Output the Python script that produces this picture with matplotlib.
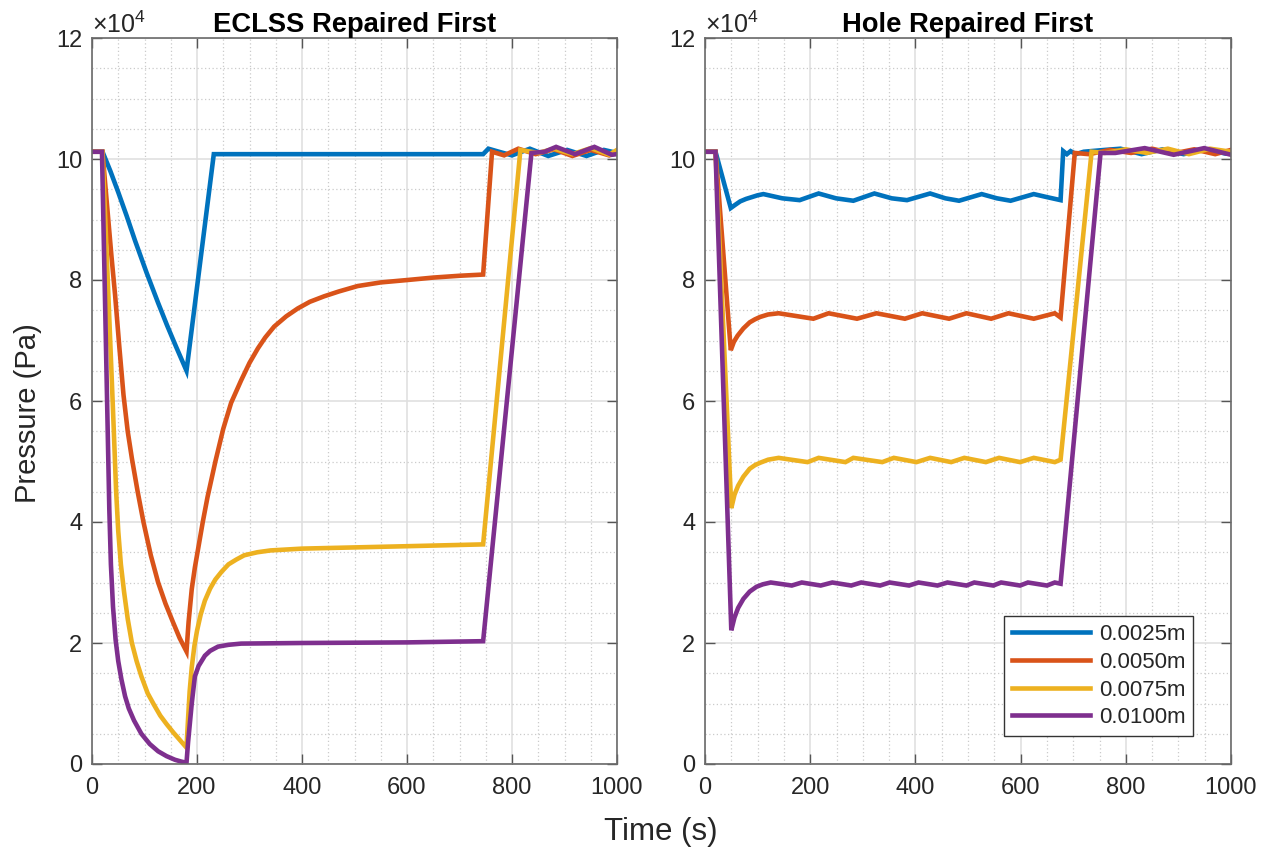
import numpy as np
import matplotlib
matplotlib.use("Agg")
import matplotlib.pyplot as plt
from matplotlib.ticker import MultipleLocator, FuncFormatter

plt.rcParams['font.family'] = ['Liberation Sans', 'DejaVu Sans']
plt.rcParams['mathtext.fontset'] = 'custom'
plt.rcParams['mathtext.rm'] = 'Liberation Sans'
plt.rcParams['mathtext.it'] = 'Liberation Sans:italic'

# Hole diameters (legend labels) and line colours
labels = ['0.0025m', '0.0050m', '0.0075m', '0.0100m']
colors = ['#0072BD', '#D95319', '#EDB120', '#7E2F8E']

# Cabin pressure, in units of 1e4 Pa, for the ECLSS-first repair order
t_ec_0025 = [0, 20, 35, 50, 66, 82, 104, 126, 143, 160, 180, 232, 745, 755, 775, 800, 834, 869, 905,
             942, 975, 1000]
p_ec_0025 = [10.12, 10.12, 9.8, 9.45, 9.06, 8.65, 8.12, 7.62, 7.25, 6.9, 6.5, 10.08, 10.08, 10.17,
             10.12, 10.06, 10.17, 10.05, 10.15, 10.05, 10.15, 10.1]

t_ec_0050 = [0, 20, 25, 30, 37, 44, 52, 60, 68, 76, 87, 98, 112, 126, 140, 154, 167, 180,
             184, 190, 196, 202, 211, 220, 235, 250, 265, 284, 300, 316, 330, 347, 370, 392, 415,
             442, 470, 506, 550, 601, 650, 700, 745,
             762, 785, 812, 845, 880, 915, 950, 985, 1000]
p_ec_0050 = [10.12, 10.12, 9.6, 9.1, 8.4, 7.75, 6.9, 6.1, 5.5, 5.05, 4.5, 4.0, 3.45, 3.0, 2.65, 2.35,
             2.08, 1.86,
             2.35, 2.89, 3.25, 3.55, 4.0, 4.41, 5.0, 5.54, 5.97, 6.34, 6.63, 6.87, 7.05, 7.23, 7.4,
             7.53, 7.64, 7.73, 7.81, 7.9, 7.96, 8.0, 8.04, 8.07, 8.09,
             10.12, 10.06, 10.17, 10.08, 10.16, 10.05, 10.15, 10.06, 10.1]

t_ec_0075 = [0, 20, 30, 40, 46, 50, 55, 61, 68, 76, 85, 94, 106, 118, 130, 142, 155, 167, 180,
             183, 186, 190, 195, 200, 207, 215, 225, 235, 247, 260, 275, 290, 315, 340, 400, 450,
             600, 745,
             816, 850, 880, 915, 950, 985, 1000]
p_ec_0075 = [10.12, 10.12, 8.0, 5.85, 4.5, 3.85, 3.3, 2.85, 2.4, 2.0, 1.7, 1.45, 1.17, 0.98, 0.8,
             0.66, 0.52, 0.4, 0.27,
             0.75, 1.2, 1.6, 1.95, 2.2, 2.47, 2.7, 2.9, 3.05, 3.18, 3.3, 3.38, 3.45, 3.5, 3.53,
             3.56, 3.57, 3.6, 3.63,
             10.15, 10.1, 10.17, 10.08, 10.18, 10.07, 10.15]

t_ec_0100 = [0, 19, 33, 36, 40, 45, 50, 56, 63, 70, 80, 94, 110, 126, 142, 158, 170, 180,
             183, 190, 196, 203, 215, 225, 240, 260, 284, 400, 600, 745,
             837, 862, 884, 920, 957, 990, 1000]
p_ec_0100 = [10.12, 10.12, 4.2, 3.3, 2.6, 2.05, 1.7, 1.4, 1.12, 0.92, 0.72, 0.5, 0.33, 0.21, 0.13,
             0.07, 0.04, 0.02,
             0.36, 1.0, 1.45, 1.62, 1.79, 1.87, 1.94, 1.97, 1.99, 2.0, 2.01, 2.03,
             10.1, 10.12, 10.2, 10.08, 10.2, 10.07, 10.08]

# Cabin pressure, in units of 1e4 Pa, for the hole-first repair order
t_ho_0025 = [0, 20, 49, 57, 67, 78, 89, 100, 111, 147, 180, 216, 249, 282, 322, 355, 384, 428, 457,
             483, 526, 555, 581, 625, 650, 676,
             681, 688, 695, 705, 720, 760, 790, 830, 870, 910, 950, 990, 1000]
p_ho_0025 = [10.12, 10.12, 9.19, 9.24, 9.3, 9.34, 9.37, 9.4, 9.42, 9.35, 9.32, 9.43, 9.35, 9.31,
             9.43, 9.35, 9.32, 9.43, 9.35, 9.31, 9.42, 9.35, 9.31, 9.42, 9.37, 9.32,
             10.13, 10.08, 10.13, 10.08, 10.12, 10.15, 10.17, 10.08, 10.16, 10.08, 10.16, 10.09,
             10.12]

t_ho_0050 = [0, 20, 49, 55, 62, 73, 85, 95, 105, 120, 140, 206, 235, 289, 326, 380, 413, 464, 497,
             544, 577, 625, 665, 676,
             703, 730, 770, 810, 850, 890, 930, 970, 1000]
p_ho_0050 = [10.12, 10.12, 6.84, 6.98, 7.08, 7.2, 7.3, 7.35, 7.39, 7.43, 7.45, 7.36, 7.45, 7.36,
             7.45, 7.36, 7.45, 7.36, 7.45, 7.36, 7.45, 7.36, 7.45, 7.38,
             10.1, 10.08, 10.15, 10.1, 10.17, 10.09, 10.16, 10.08, 10.15]

t_ho_0075 = [0, 20, 50, 56, 63, 73, 85, 95, 105, 120, 140, 195, 216, 267, 282, 337, 359, 402, 428,
             468, 493, 534, 559, 599, 625, 665, 676,
             735, 760, 800, 840, 880, 920, 960, 1000]
p_ho_0075 = [10.12, 10.12, 4.23, 4.45, 4.6, 4.75, 4.88, 4.94, 4.98, 5.03, 5.06, 4.99, 5.06, 4.99,
             5.06, 4.99, 5.06, 4.99, 5.06, 4.99, 5.06, 4.99, 5.06, 4.99, 5.06, 4.99, 5.03,
             10.12, 10.1, 10.16, 10.1, 10.17, 10.08, 10.17, 10.12]

t_ho_0100 = [0, 20, 50, 56, 63, 73, 85, 98, 110, 125, 165, 184, 220, 242, 278, 297, 333, 351, 388,
             406, 442, 461, 497, 512, 548, 563, 599, 614, 650, 665, 676,
             752, 780, 836, 891, 949, 1000]
p_ho_0100 = [10.12, 10.12, 2.21, 2.42, 2.58, 2.73, 2.85, 2.93, 2.97, 3.0, 2.95, 3.0, 2.95, 3.0,
             2.95, 3.0, 2.95, 3.0, 2.95, 3.0, 2.95, 3.0, 2.95, 3.0, 2.95, 3.0, 2.95, 3.0, 2.95, 3.0,
             2.98,
             10.1, 10.1, 10.18, 10.07, 10.18, 10.07]

PA_UNIT = 1e4
x_ticks = [0, 200, 400, 600, 800, 1000]
y_ticks = [0, 2, 4, 6, 8, 10, 12]

panels = [
    ('ECLSS Repaired First',
     [(t_ec_0025, p_ec_0025), (t_ec_0050, p_ec_0050), (t_ec_0075, p_ec_0075), (t_ec_0100, p_ec_0100)]),
    ('Hole Repaired First',
     [(t_ho_0025, p_ho_0025), (t_ho_0050, p_ho_0050), (t_ho_0075, p_ho_0075), (t_ho_0100, p_ho_0100)]),
]

fig = plt.figure(figsize=(12.7, 8.56), dpi=100)
axes = [fig.add_axes([92 / 1270, 92 / 856, 525 / 1270, 726 / 856]),
        fig.add_axes([705 / 1270, 92 / 856, 526 / 1270, 726 / 856])]

text_col = '#262626'
for ax, (title, series) in zip(axes, panels):
    for (t, p), c, lab in zip(series, colors, labels):
        ax.plot(t, np.array(p) * PA_UNIT, color=c, lw=3.3, label=lab, solid_joinstyle='miter')
    ax.set_xlim(0, 1000)
    ax.set_ylim(0, 12 * PA_UNIT)
    ax.set_xticks(x_ticks)
    ax.set_yticks([v * PA_UNIT for v in y_ticks])
    ax.yaxis.set_major_formatter(FuncFormatter(lambda v, pos: f'{v / PA_UNIT:g}'))
    ax.xaxis.set_minor_locator(MultipleLocator(50))
    ax.yaxis.set_minor_locator(MultipleLocator(0.5 * PA_UNIT))
    ax.set_axisbelow(True)
    ax.grid(True, which='major', color='#e0e0e0', lw=1.2, ls='-')
    ax.grid(True, which='minor', color='#cbcbcb', lw=0.9, ls=(0, (1, 2)))
    ax.tick_params(which='major', direction='in', length=7, width=1.0, color='#555555',
                   top=True, right=True, labelsize=17, labelcolor=text_col)
    ax.tick_params(axis='y', which='major', pad=7)
    ax.tick_params(axis='x', which='major', pad=9)
    ax.tick_params(which='minor', length=0)
    for s in ax.spines.values():
        s.set_color('#6a6a6a')
        s.set_linewidth(1.2)
    ax.set_title(title, fontsize=19.7, fontweight='bold', pad=4, color='black')
    ax.text(0.0, 1.0, r'$\times10^{4}$', transform=ax.transAxes, ha='left', va='bottom',
            fontsize=18, color=text_col)

leg = axes[1].legend(loc='lower right', bbox_to_anchor=(0.928, 0.0386), borderaxespad=0,
                     fontsize=16, frameon=True, fancybox=False, framealpha=1,
                     handlelength=3.5, labelspacing=0.3, borderpad=0.35, handletextpad=0.4)
leg.get_frame().set_edgecolor('#333333')
leg.get_frame().set_linewidth(1.0)
for txt in leg.get_texts():
    txt.set_color(text_col)

fig.text(0.52, 0.028, 'Time (s)', ha='center', va='center', fontsize=22.5, color=text_col)
fig.text(0.022, 0.5175, 'Pressure (Pa)', ha='center', va='center', rotation=90,
         fontsize=21, color=text_col)

fig.savefig('out.png', dpi=100, facecolor='white')
